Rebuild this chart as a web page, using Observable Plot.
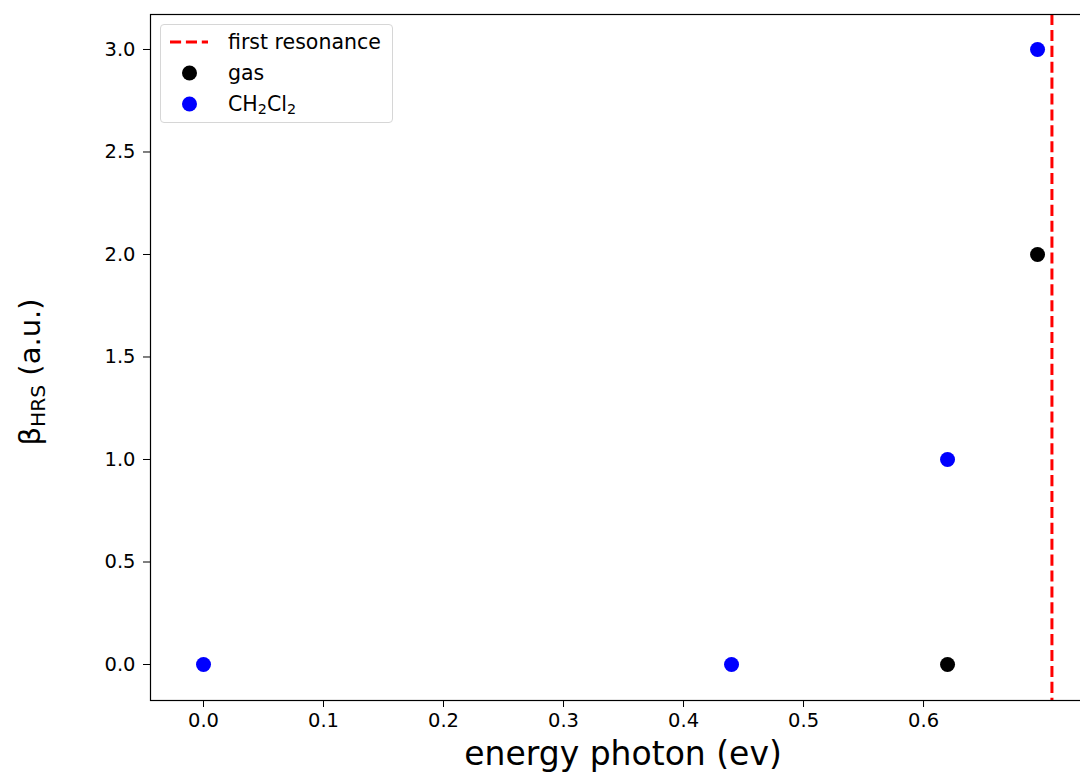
<!DOCTYPE html>
<html>
<head>
<meta charset="utf-8">
<script src="https://cdn.jsdelivr.net/npm/d3@7"></script>
<script src="https://cdn.jsdelivr.net/npm/@observablehq/plot@0.6"></script>
<style>
  body { margin: 0; background: #fff; }
  #wrap { position: relative; width: 1080px; height: 778px; overflow: hidden; font-family: "DejaVu Sans", sans-serif; }
  #wrap > svg { position: absolute; left: 0; top: 0; max-width: none !important; }
  .legend { position: absolute; left: 160px; top: 24px; width: 231px; height: 97px; border: 1px solid #d6d6d6; border-radius: 4px; background: rgba(255,255,255,0.8); }
  .row { position: absolute; left: 0; height: 30px; width: 231px; font-size: 20.5px; color: #000; }
  .row .lbl { position: absolute; left: 67px; top: 50%; transform: translateY(-50%); white-space: nowrap; line-height: 1; }
  .dash { position: absolute; left: 8px; top: 50%; transform: translateY(-50%); }
  .dot { position: absolute; left: 21px; top: 50%; width: 15px; height: 15px; border-radius: 50%; transform: translateY(-50%); }
  sub { font-size: 0.7em; vertical-align: -0.25em; line-height: 0; }
  .ylab { position: absolute; left: 30px; top: 372px; transform: translate(-50%, -50%) rotate(-90deg); font-size: 29px; white-space: nowrap; line-height: 1; }
</style>
</head>
<body>
<div id="wrap"></div>
<script>
// Data
const gasEnergy = [0.62, 0.695];
const gasBeta = [0, 2];
const ch2cl2Energy = [0.0, 0.44, 0.62, 0.695];
const ch2cl2Beta = [0, 0, 1, 3];
const firstResonance = [0.707];
const xTicks = [0, 0.1, 0.2, 0.3, 0.4, 0.5, 0.6];
const yTicks = [0, 0.5, 1.0, 1.5, 2.0, 2.5, 3.0];
const xLabel = "energy photon (ev)";

const gas = gasEnergy.map((e, i) => ({energy: e, beta: gasBeta[i]}));
const solv = ch2cl2Energy.map((e, i) => ({energy: e, beta: ch2cl2Beta[i]}));
const fmt = d3.format(".1f");

const chart = Plot.plot({
  width: 1100,
  height: 778,
  marginLeft: 150,
  marginRight: 5,
  marginTop: 14,
  marginBottom: 78,
  style: {fontFamily: "DejaVu Sans, sans-serif", background: "transparent", color: "#000", maxWidth: "none"},
  x: {domain: [-0.04417, 0.7433]},
  y: {domain: [-0.1756, 3.1707]},
  marks: [
    Plot.axisX({ticks: xTicks, tickFormat: fmt, tickSize: 7, tickPadding: 6, fontSize: 19.5, label: null, stroke: "#000"}),
    Plot.axisY({ticks: yTicks, tickFormat: fmt, tickSize: 7, tickPadding: 8, fontSize: 19.5, label: null, stroke: "#000"}),
    Plot.ruleX(firstResonance, {stroke: "red", strokeWidth: 3, strokeDasharray: "11.1,4.8"}),
    Plot.dot(gas, {x: "energy", y: "beta", r: 7.5, fill: "black", stroke: "none"}),
    Plot.dot(solv, {x: "energy", y: "beta", r: 7.5, fill: "#0000ff", stroke: "none"}),
    Plot.frame({stroke: "#000", strokeWidth: 1.2}),
    Plot.text([xLabel], {frameAnchor: "bottom", dy: 64, fontSize: 33, fill: "#000"})
  ]
});

const wrap = document.getElementById("wrap");
wrap.appendChild(chart);

const ylab = document.createElement("div");
ylab.className = "ylab";
ylab.innerHTML = "β<sub>HRS</sub> (a.u.)";
wrap.appendChild(ylab);

const legend = document.createElement("div");
legend.className = "legend";
legend.innerHTML = `
  <div class="row" style="top:2px"><svg class="dash" width="40" height="4"><line x1="1" y1="2" x2="39" y2="2" stroke="red" stroke-width="3" stroke-dasharray="11.1,4.8"/></svg><span class="lbl">first resonance</span></div>
  <div class="row" style="top:33px"><div class="dot" style="background:#000"></div><span class="lbl">gas</span></div>
  <div class="row" style="top:64px"><div class="dot" style="background:#0000ff"></div><span class="lbl">CH<sub>2</sub>Cl<sub>2</sub></span></div>`;
wrap.appendChild(legend);
</script>
</body>
</html>
